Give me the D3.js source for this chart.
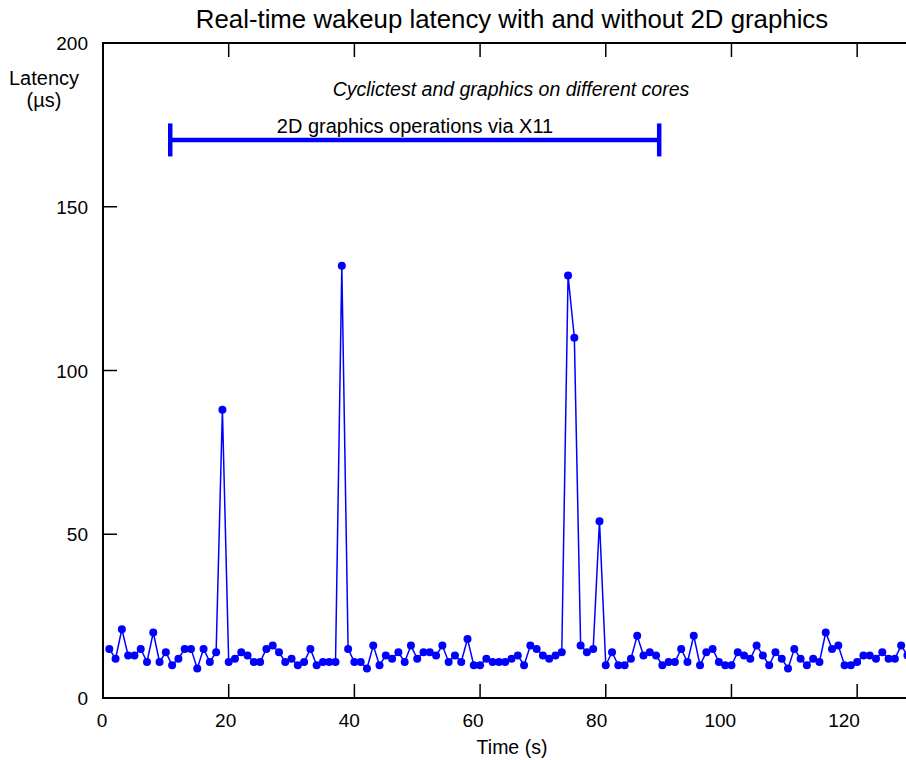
<!DOCTYPE html>
<html>
<head>
<meta charset="utf-8">
<script src="https://cdn.jsdelivr.net/npm/d3@7"></script>
<style>
  body { margin: 0; background: #fff; }
  svg { display: block; font-family: "Liberation Sans", Arial, sans-serif; }
</style>
</head>
<body>
<div id="graphics"></div>
<script>
// seconds 1..128, latency in microseconds
var times = d3.range(1, 129);
var latency = [
  15, 12, 21, 13, 13, 15, 11, 20, 11, 14,
  10, 12, 15, 15, 9, 15, 11, 14, 88, 11,
  12, 14, 13, 11, 11, 15, 16, 14, 11, 12,
  10, 11, 15, 10, 11, 11, 11, 132, 15, 11,
  11, 9, 16, 10, 13, 12, 14, 11, 16, 12,
  14, 14, 13, 16, 11, 13, 11, 18, 10, 10,
  12, 11, 11, 11, 12, 13, 10, 16, 15, 13,
  12, 13, 14, 129, 110, 16, 14, 15, 54, 10,
  14, 10, 10, 12, 19, 13, 14, 13, 10, 11,
  11, 15, 11, 19, 10, 14, 15, 11, 10, 10,
  14, 13, 12, 16, 13, 10, 14, 12, 9, 15,
  12, 10, 12, 11, 20, 15, 16, 10, 10, 11,
  13, 13, 12, 14, 12, 12, 16, 13
];
var xTicks = [0, 20, 40, 60, 80, 100, 120];
var yTicks = [0, 50, 100, 150, 200];
var spanStart = 10.7, spanEnd = 88.5, spanLevel = 170.4;

var w = 906, h = 760;
var x0 = 103, x1 = 920, yTop = 43, yBot = 698;
var tickLen = 14;

var svg = d3.select("#graphics").append("svg")
  .attr("width", w).attr("height", h);

var x = d3.scaleLinear().domain([0, 130]).range([x0, x1]);
var y = d3.scaleLinear().domain([0, 200]).range([yBot, yTop]);
// tick labels in the original sit on a slightly tighter spacing than the ticks
var xLab = d3.scaleLinear().domain([0, 120]).range([102, 844]);

// title
svg.append("text")
  .attr("x", 512).attr("y", 28)
  .attr("text-anchor", "middle")
  .attr("font-size", "25.8px")
  .text("Real-time wakeup latency with and without 2D graphics");

// frame
svg.append("rect")
  .attr("x", x0).attr("y", yTop)
  .attr("width", x1 - x0).attr("height", yBot - yTop)
  .attr("fill", "none").attr("stroke", "#000").attr("stroke-width", 2);

// x ticks, bottom and top, inward
xTicks.slice(1).forEach(function(t) {
  svg.append("line")
    .attr("x1", x(t)).attr("x2", x(t))
    .attr("y1", yBot).attr("y2", yBot - tickLen)
    .attr("stroke", "#000").attr("stroke-width", 1.5);
  svg.append("line")
    .attr("x1", x(t)).attr("x2", x(t))
    .attr("y1", yTop).attr("y2", yTop + tickLen)
    .attr("stroke", "#000").attr("stroke-width", 1.5);
});
// y ticks, left and right
yTicks.slice(1, -1).forEach(function(v) {
  svg.append("line")
    .attr("x1", x0).attr("x2", x0 + tickLen)
    .attr("y1", y(v)).attr("y2", y(v))
    .attr("stroke", "#000").attr("stroke-width", 1.5);
  svg.append("line")
    .attr("x1", x1).attr("x2", x1 - tickLen)
    .attr("y1", y(v)).attr("y2", y(v))
    .attr("stroke", "#000").attr("stroke-width", 1.5);
});

svg.selectAll("text.xlab")
  .data(xTicks)
  .enter()
  .append("text")
  .attr("class", "xlab")
  .attr("x", function(d) { return xLab(d); })
  .attr("y", 727)
  .attr("text-anchor", "middle")
  .attr("font-size", "19px")
  .text(function(d) { return d; });

svg.selectAll("text.ylab")
  .data(yTicks)
  .enter()
  .append("text")
  .attr("class", "ylab")
  .attr("x", 88)
  .attr("y", function(d) { return y(d) + 7; })
  .attr("text-anchor", "end")
  .attr("font-size", "19px")
  .text(function(d) { return d; });

svg.append("text")
  .attr("x", 512).attr("y", 754)
  .attr("text-anchor", "middle")
  .attr("font-size", "19.5px")
  .text("Time (s)");

svg.append("text")
  .attr("x", 44).attr("y", 85)
  .attr("text-anchor", "middle")
  .attr("font-size", "20px")
  .text("Latency");
svg.append("text")
  .attr("x", 44).attr("y", 107)
  .attr("text-anchor", "middle")
  .attr("font-size", "20px")
  .text("(\u00b5s)");

svg.append("text")
  .attr("x", 511).attr("y", 96)
  .attr("text-anchor", "middle")
  .attr("font-size", "19.5px")
  .attr("font-style", "italic")
  .text("Cyclictest and graphics on different cores");

// span of graphics load
var spanColor = "#0000ff";
svg.append("line")
  .attr("x1", x(spanStart)).attr("x2", x(spanEnd))
  .attr("y1", y(spanLevel)).attr("y2", y(spanLevel))
  .attr("stroke", spanColor).attr("stroke-width", 4.5);
[spanStart, spanEnd].forEach(function(t) {
  svg.append("line")
    .attr("x1", x(t)).attr("x2", x(t))
    .attr("y1", y(spanLevel) - 16.5).attr("y2", y(spanLevel) + 16.5)
    .attr("stroke", spanColor).attr("stroke-width", 4.5);
});
svg.append("text")
  .attr("x", 415).attr("y", 133)
  .attr("text-anchor", "middle")
  .attr("font-size", "20px")
  .text("2D graphics operations via X11");

// series
var data = times.map(function(t, i) { return [t, latency[i]]; });
var line = d3.line()
  .x(function(d) { return x(d[0]); })
  .y(function(d) { return y(d[1]); });

svg.append("path")
  .datum(data)
  .attr("d", line)
  .attr("fill", "none")
  .attr("stroke", "#0000ff")
  .attr("stroke-width", 1.5);

svg.selectAll("circle")
  .data(data)
  .enter()
  .append("circle")
  .attr("cx", function(d) { return x(d[0]); })
  .attr("cy", function(d) { return y(d[1]); })
  .attr("r", 4)
  .attr("fill", "#0000ff");
</script>
</body>
</html>
